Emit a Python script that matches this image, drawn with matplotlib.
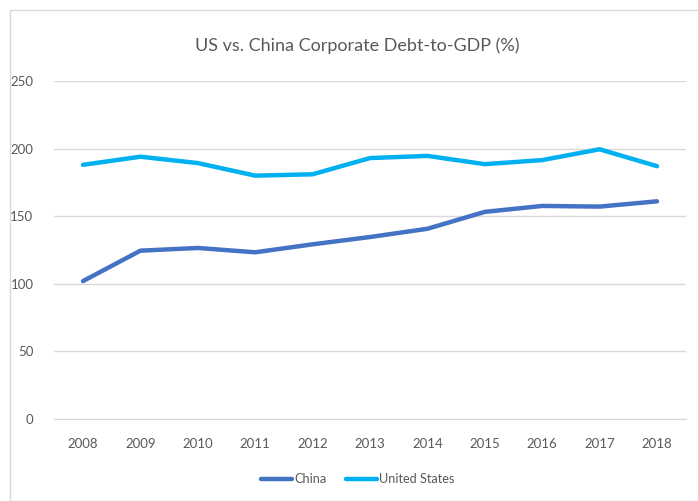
import matplotlib.pyplot as plt
from matplotlib.patches import Rectangle

# Data
anos = ["2008", "2009", "2010", "2011", "2012", "2013", "2014", "2015", "2016", "2017", "2018"]
china = [102, 124.5, 126.5, 123.3, 129.2, 134.6, 140.7, 153.2, 157.6, 157.1, 161]
eua = [188, 194, 189.3, 180, 181, 193, 194.6, 188.5, 191.5, 199.5, 187]
ticks_y = [0, 50, 100, 150, 200, 250]

plt.rcParams['font.family'] = ['Lato', 'DejaVu Sans']
texto = "#595959"
grade = "#D9D9D9"

fig = plt.figure(figsize=(6.98, 5.01), dpi=100)
ax = fig.add_axes([54.3 / 698, 82 / 501, 631.4 / 698, 338 / 501])

# Chart border
fig.patches.append(Rectangle((10 / 698, 0), 700 / 698, 491 / 501, transform=fig.transFigure,
                             fill=False, edgecolor=grade, linewidth=1))

x = range(len(anos))
ax.plot(x, china, color="#4472C4", linewidth=3.2, label="China", solid_capstyle="round")
ax.plot(x, eua, color="#00B0F0", linewidth=3.2, label="United States", solid_capstyle="round")

ax.set_xlim(-0.5, len(anos) - 0.5)
ax.set_ylim(0, 250)
ax.set_xticks(list(x))
ax.set_xticklabels(anos)
ax.set_yticks(ticks_y)
ax.grid(axis="y", color=grade, linewidth=1)
ax.set_axisbelow(True)
for lado in ["top", "right", "left"]:
    ax.spines[lado].set_visible(False)
ax.spines["bottom"].set_color(grade)
ax.tick_params(axis="both", length=0, labelsize=9.5, colors=texto)
ax.tick_params(axis="x", pad=14)
ax.tick_params(axis="y", pad=15)

fig.text(357 / 698, 1 - 46 / 501, "US vs. China Corporate Debt-to-GDP (%)", ha="center", va="center",
         fontsize=13, color=texto)

leg = fig.legend(loc="center", bbox_to_anchor=(358 / 698, 1 - 479 / 501), ncol=2, frameon=False,
                 fontsize=9.2, handlelength=2.4, handletextpad=0.2, columnspacing=1.5)
for t in leg.get_texts():
    t.set_color(texto)

fig.savefig("out.png", dpi=100)
